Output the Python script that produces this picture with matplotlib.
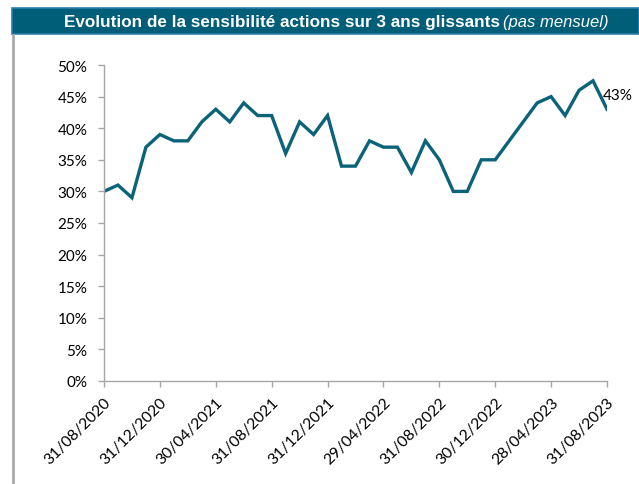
import matplotlib
matplotlib.use("Agg")
import matplotlib.pyplot as plt
from matplotlib.patches import Rectangle
from matplotlib.lines import Line2D

# monthly equity sensitivity, 31/08/2020 -> 31/08/2023 (in %)
sensitivity = [30, 31, 29, 37, 39, 38, 38, 41, 43, 41, 44, 42, 42,
               36, 41, 39, 42, 34, 34, 38, 37, 37, 33, 38, 35,
               30, 30, 35, 35, 38, 41, 44, 45, 42, 46, 47.5, 43]
tick_labels = ["31/08/2020", "31/12/2020", "30/04/2021", "31/08/2021",
               "31/12/2021", "29/04/2022", "31/08/2022", "30/12/2022",
               "28/04/2023", "31/08/2023"]
y_ticks = [0, 5, 10, 15, 20, 25, 30, 35, 40, 45, 50]

line_color = "#0A6379"
axis_gray = "#A6A6A6"
font = "Lato"

W, H = 639, 485
fig = plt.figure(figsize=(W / 100, H / 100), dpi=100)
fig.patch.set_facecolor("white")

# title band
fig.patches.append(Rectangle((12 / W, 1 - 35 / H), 1 - 12 / W, 26 / H,
                             transform=fig.transFigure, facecolor="#005E78",
                             edgecolor="#2A7FA8", linewidth=1.2))
fig.text(500 / W, 1 - 22 / H, "Evolution de la sensibilité actions sur 3 ans glissants",
         color="white", fontsize=12.3, fontweight="bold", family="Liberation Sans",
         ha="right", va="center")
fig.text(503 / W, 1 - 22 / H, "(pas mensuel)", color="white", fontsize=12,
         style="italic", family="Liberation Sans", ha="left", va="center")

# left frame line
fig.lines.append(Line2D([13 / W, 13 / W], [0, 1 - 36 / H], transform=fig.transFigure,
                        color="#AAAAAA", linewidth=2))

ax = fig.add_axes([104 / W, 1 - 382 / H, (607 - 104) / W, (382 - 66) / H])
x = list(range(len(sensitivity)))
ax.plot(x, sensitivity, color=line_color, linewidth=2.4, solid_joinstyle="miter")

ax.set_xlim(0, len(sensitivity) - 1)
ax.set_ylim(0, 50)
ax.set_yticks(y_ticks)
ax.set_yticklabels([f"{v}%" for v in y_ticks], family=font, fontsize=11)
ax.set_xticks(x[::4])
ax.set_xticklabels(tick_labels, rotation=45, ha="right", rotation_mode="anchor",
                   family=font, fontsize=11.3)

for s in ("top", "right"):
    ax.spines[s].set_visible(False)
for s in ("left", "bottom"):
    ax.spines[s].set_color(axis_gray)
    ax.spines[s].set_linewidth(1)
ax.tick_params(axis="both", colors=axis_gray, labelcolor="black", length=4, width=1)
ax.tick_params(axis="y", pad=8)
ax.tick_params(axis="x", pad=6)

last = sensitivity[-1]
ax.annotate(f"{last:g}%", xy=(x[-1], last), xytext=(-3, 5), textcoords="offset points",
            ha="left", va="bottom", family=font, fontsize=11, annotation_clip=False)

fig.savefig("out.png", dpi=100)
